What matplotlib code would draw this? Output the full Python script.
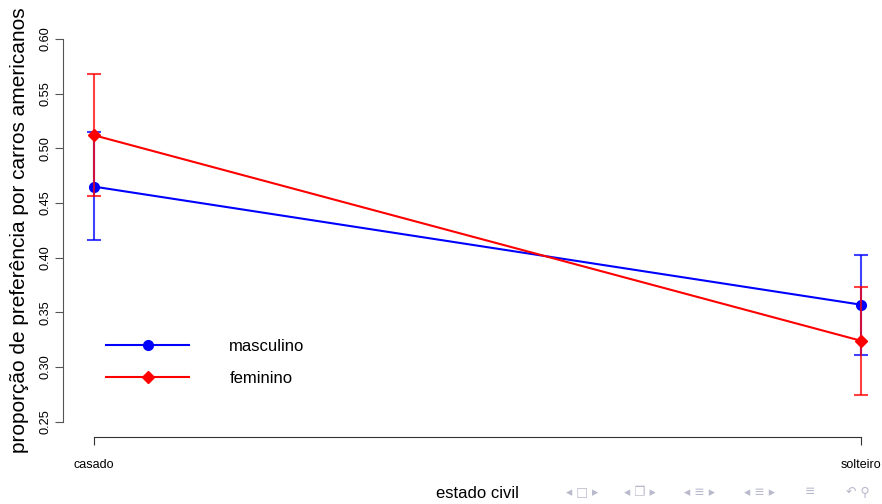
import matplotlib
matplotlib.use('Agg')
import matplotlib.pyplot as plt

# proporção de preferência por carros americanos, por sexo e estado civil
estado_civil = ['casado', 'solteiro']
masculino = [0.465, 0.357]
masculino_inf = [0.416, 0.311]
masculino_sup = [0.5145, 0.402]
feminino = [0.512, 0.324]
feminino_inf = [0.456, 0.274]
feminino_sup = [0.568, 0.373]
y_ticks = [0.25, 0.30, 0.35, 0.40, 0.45, 0.50, 0.55, 0.60]

fonte = ['Liberation Sans', 'DejaVu Sans']

W, H = 882, 504
fig = plt.figure(figsize=(W / 100, H / 100), dpi=100)
ax = fig.add_axes([63 / W, (H - 437) / H, (891.7 - 63) / W, (437 - 23.7) / H])

x = [1, 2]
series = [
    ('masculino', masculino, masculino_inf, masculino_sup, 'blue', 'o', 7),
    ('feminino', feminino, feminino_inf, feminino_sup, 'red', 'D', 6),
]
for nome, val, inf, sup, cor, mk, ms in series:
    err = [[v - lo for v, lo in zip(val, inf)], [hi - v for v, hi in zip(val, sup)]]
    ax.errorbar(x, val, yerr=err, fmt='none', ecolor=cor, elinewidth=1.5,
                capsize=5, capthick=1.5, alpha=0.75)
    ax.plot(x, val, color=cor, lw=1.5, marker=mk, ms=ms, label=nome)

ax.set_xlim(0.9596, 2.04)
ax.set_ylim(0.236, 0.614)

for s in ['top', 'right']:
    ax.spines[s].set_visible(False)
ax.spines['left'].set_bounds(0.25, 0.60)
ax.spines['bottom'].set_bounds(1, 2)
ax.spines['left'].set_color('#555555')
ax.spines['bottom'].set_color('#333333')
ax.spines['left'].set_linewidth(0.8)
ax.spines['bottom'].set_linewidth(0.8)

ax.set_yticks(y_ticks)
ax.set_yticklabels(['%.2f' % t for t in y_ticks], rotation=90, va='center',
                   family=fonte, fontsize=9.2)
ax.set_xticks(x)
ax.set_xticklabels(estado_civil, family=fonte, fontsize=9)
ax.tick_params(axis='y', length=5.5, width=0.8, color='#555555', pad=3)
ax.tick_params(axis='x', length=5.5, width=0.8, color='#333333', pad=10)

ax.set_ylabel('proporção de preferência por carros americanos',
              family=fonte, fontsize=15)
ax.yaxis.set_label_coords(-34 / (891.7 - 63), 0.5)
fig.text(477 / W, 1 - 494 / H, 'estado civil', family=fonte, fontsize=12,
         ha='center', va='center')

ax.legend(loc='upper left', bbox_to_anchor=(106 / W, 1 - 339 / H),
          bbox_transform=fig.transFigure, frameon=False, borderpad=0,
          borderaxespad=0, handlelength=5.0, handletextpad=2.4,
          labelspacing=1.0, prop={'family': fonte, 'size': 12}, numpoints=1)

# símbolos de navegação do beamer
nav = [('◂ □ ▸', 582), ('◂ ❐ ▸', 640), ('◂ ≡ ▸', 700), ('◂ ≡ ▸', 760),
       ('≡', 810), ('↶ ⚲', 858)]
for s, px in nav:
    fig.text(px / W, 1 - 492 / H, s, family=['DejaVu Sans'], fontsize=9,
             color='#b9b9cc', ha='center', va='center')

fig.savefig('out.png', dpi=100)
